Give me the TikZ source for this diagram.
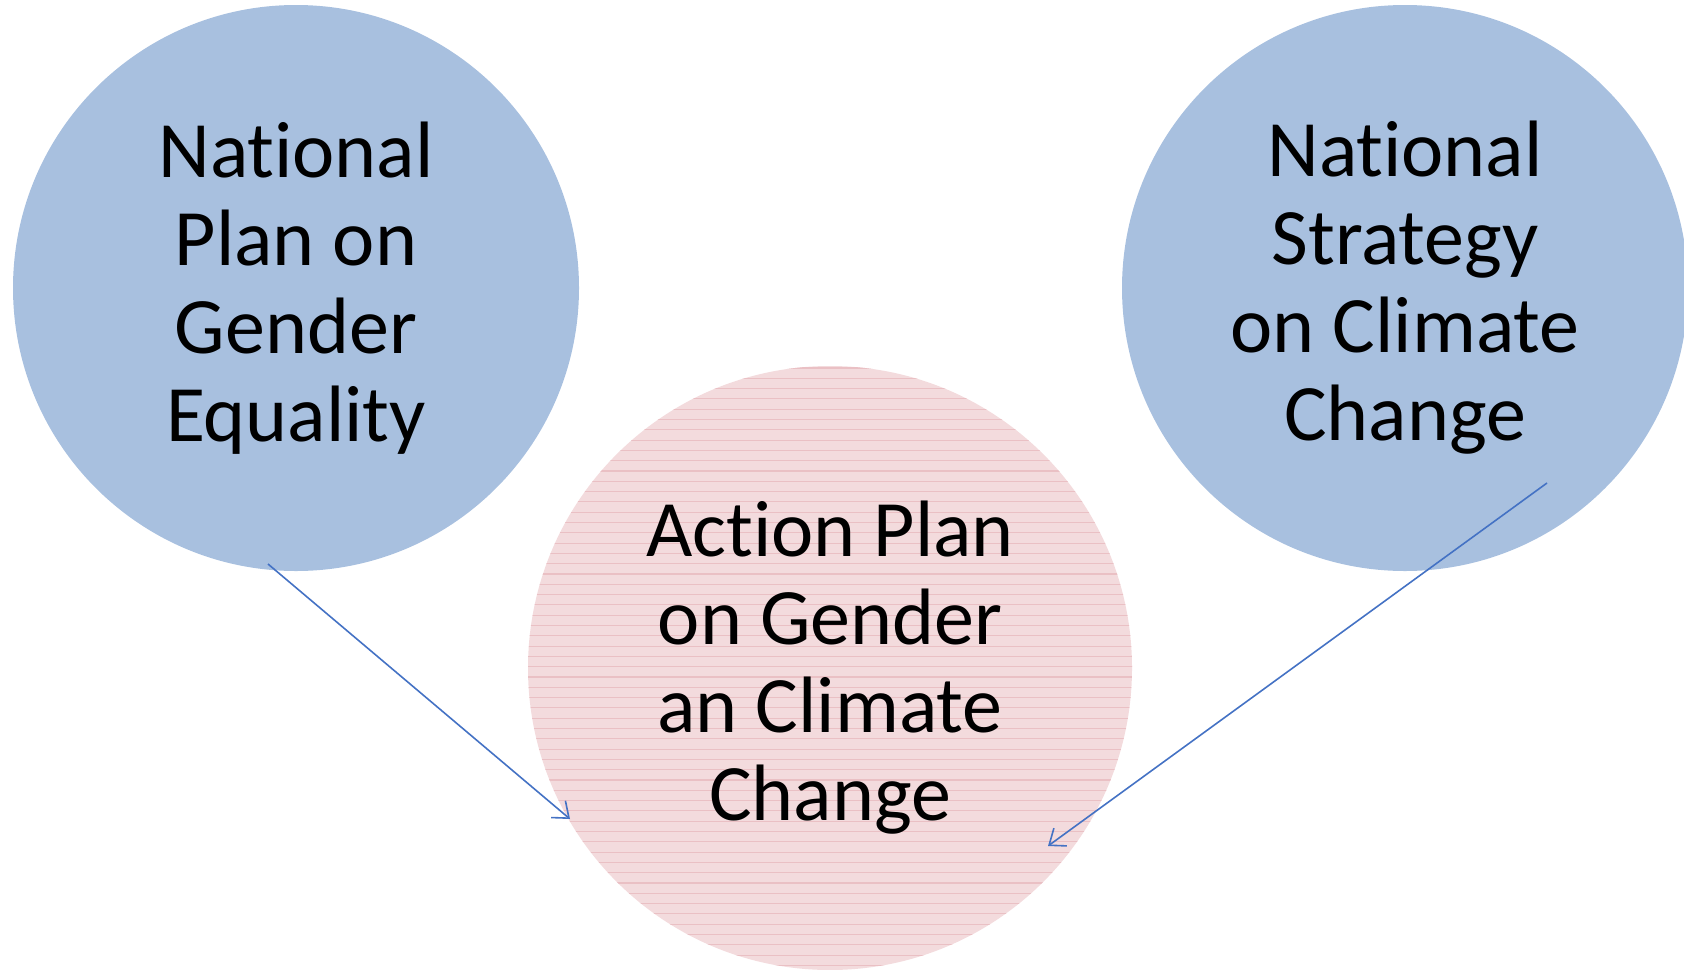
\documentclass[tikz,border=0pt]{standalone}
\usepackage{fontspec}
\setmainfont{Carlito}[Ligatures=NoCommon]
\usepackage{tikz}
\usetikzlibrary{arrows.meta,calc,positioning}
\definecolor{planblue}{RGB}{168,192,223}
\definecolor{actpink}{RGB}{243,219,221}
\definecolor{actline}{RGB}{234,192,196}
\definecolor{linkblue}{RGB}{68,114,196}
\tikzstyle{bubble}=[circle, draw=none, inner sep=0pt,
                    outer sep=0pt, align=center,
                    font=\fontsize{40}{44}\selectfont]
\tikzstyle{plan}  =[bubble, fill=planblue, minimum size=283pt]
\tikzstyle{act}   =[bubble, fill=actpink, minimum size=302pt]
\tikzstyle{link}  =[draw=linkblue, line width=0.8pt,
                    -{Straight Barb[length=7pt, width=11pt, line width=0.8pt]}]

\begin{document}
\begin{tikzpicture}[x=0.5pt, y=-0.5pt]
            \useasboundingbox (0,0) rectangle (1684,969);
            \begin{scope}
                \node (natplan) [plan] at (296,288) {};
                \node (natstrat) [plan] at (1405,288) {};
                \node (actplan) [act] at (830,668) {};
                % horizontal hatch in the pink circle
                \begin{scope}
                    \clip (actplan.center) circle[radius=151pt];
                    \foreach \y in {368,378.3,...,975}
                        \draw[actline, line width=0.55pt] (500,\y) -- (1160,\y);
                \end{scope}
                \node [bubble] at (natplan) {National\\Plan on\\Gender\\Equality};
                \node [bubble] at (natstrat) {National\\Strategy\\on Climate\\Change};
                \node [bubble] at (actplan) {Action Plan\\on Gender\\an Climate\\Change};
                \coordinate (p1) at (268,564);
                \coordinate (p2) at (570,819);
                \coordinate (s1) at (1547,483);
                \coordinate (s2) at (1048,846);
                \draw[link] (p1) to (p2);
                \draw[link] (s1) to (s2);
            \end{scope}
        \end{tikzpicture}
\end{document}
